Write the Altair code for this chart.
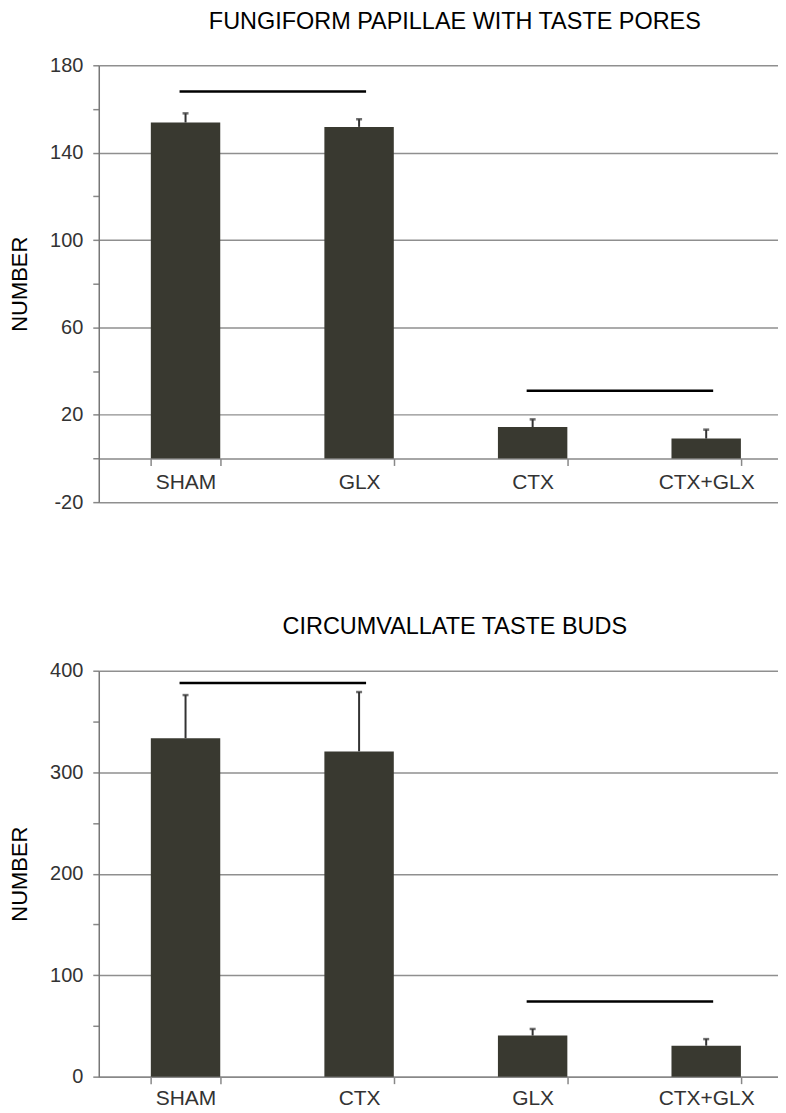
import altair as alt
import pandas as pd

# ---- data ----
cats1 = ["SHAM", "GLX", "CTX", "CTX+GLX"]
mean1 = [153.8, 151.8, 14.4, 9.1]
upper1 = [158.0, 155.3, 17.9, 13.2]
sig1_from = ["SHAM", "CTX"]
sig1_to = ["GLX", "CTX+GLX"]
sig1_y = [168, 31]
title1 = "FUNGIFORM PAPILLAE WITH TASTE PORES"

cats2 = ["SHAM", "CTX", "GLX", "CTX+GLX"]
mean2 = [333.5, 320.5, 40.5, 30.5]
upper2 = [376, 379, 47, 37]
sig2_from = ["SHAM", "GLX"]
sig2_to = ["CTX", "CTX+GLX"]
sig2_y = [388, 74]
title2 = "CIRCUMVALLATE TASTE BUDS"

W = 696
BAR = "#393930"
GRID = "#8f8f8f"
FONT = "Liberation Sans"


def panel(title, cats, mean, upper, sfrom, sto, sy, ymin, ymax, minor, major,
          height, xoff, lpad, toff):
    df = pd.DataFrame({"cat": cats, "mean": mean, "upper": upper})
    sig = pd.DataFrame({"a": sfrom, "b": sto, "y": sy})
    xscale = alt.Scale(domain=cats, paddingInner=0.6, paddingOuter=0.3)
    yscale = alt.Scale(domain=[ymin, ymax], nice=False, zero=False)
    vals = list(range(ymin, ymax + 1, minor))
    test = f"(datum.value - ({ymin})) % {major} == 0"
    yaxis = alt.Axis(
        values=vals, title="NUMBER", titleFont=FONT, titleFontSize=22,
        titleFontWeight="normal", titleColor="black", titlePadding=18,
        labelExpr=f"{test} ? ('' + datum.value) : ''", labelFont=FONT, labelFontSize=20,
        labelColor="#333", labelPadding=10, tickSize=6, tickColor="#888",
        tickWidth=1.5, domainColor="#777", domainWidth=1.5, grid=True,
        gridColor=GRID, gridWidth=1.5,
        gridOpacity={"condition": {"test": test, "value": 1}, "value": 0},
    )
    xaxis = alt.Axis(
        title=None, labelFont=FONT, labelFontSize=21, labelColor="#333",
        labelPadding=lpad, tickBand="extent", tickSize=7, tickColor="#888",
        tickWidth=1.5, domainColor="#888", domainWidth=1.5, offset=xoff,
        grid=False, labelAngle=0,
    )
    X = alt.X("cat:N", scale=xscale, axis=xaxis, sort=cats)
    bars = alt.Chart(df).mark_bar(color=BAR).encode(
        x=X, y=alt.Y("mean:Q", scale=yscale, axis=yaxis), y2=alt.datum(0)
    )
    whisk = alt.Chart(df).mark_rule(color="#333", strokeWidth=2).encode(
        x=X, y=alt.Y("mean:Q", scale=yscale, axis=yaxis), y2="upper:Q"
    )
    cap = alt.Chart(df).mark_tick(color="#333", thickness=2.5, size=6).encode(
        x=X, y=alt.Y("upper:Q", scale=yscale, axis=yaxis)
    )
    sigl = alt.Chart(sig).mark_rule(color="black", strokeWidth=2.5, xOffset=-6, x2Offset=7).encode(
        x=alt.X("a:N", scale=xscale, axis=xaxis, bandPosition=0.5),
        x2=alt.X2("b", bandPosition=0.5),
        y=alt.Y("y:Q", scale=yscale, axis=yaxis),
    )
    return alt.layer(bars, whisk, cap, sigl).properties(
        width=W, height=height,
        title=alt.TitleParams(title, font=FONT, fontSize=23.5, fontWeight="normal",
                              color="black", anchor="middle", dx=9, offset=toff),
    )


c1 = panel(title1, cats1, mean1, upper1, sig1_from, sig1_to, sig1_y,
           -20, 180, 20, 40, 438, -43.8, 6, 22)
c2 = panel(title2, cats2, mean2, upper2, sig2_from, sig2_to, sig2_y,
           0, 400, 50, 100, 407, 0, 4, 22)

chart = alt.vconcat(c1, c2, spacing=103).properties(
    padding={"left": 0, "top": 0, "right": -15, "bottom": 0}
).configure_view(stroke=None)

chart.save("out.html", embed_options={"renderer": "svg", "actions": False})
